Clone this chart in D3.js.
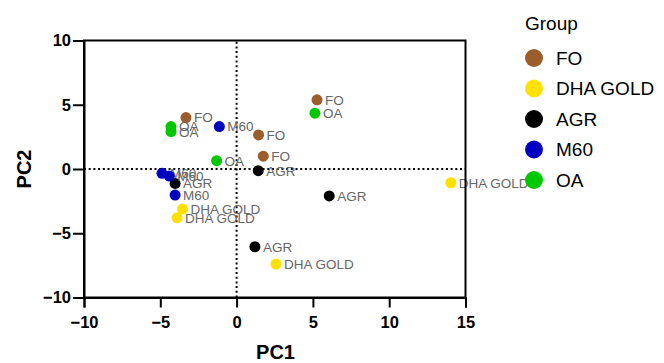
<!DOCTYPE html>
<html>
<head>
<meta charset="utf-8">
<script src="https://cdn.jsdelivr.net/npm/d3@7"></script>
<style>
  body { margin: 0; background: #fff; }
  svg { display: block; font-family: "Liberation Sans", Arial, sans-serif; }
</style>
</head>
<body>
<div id="chart"></div>
<script>
// legend groups and their colours
var groups = ["FO", "DHA GOLD", "AGR", "M60", "OA"];
var groupColors = ["#9c5d2c", "#ffe100", "#000000", "#0000c0", "#00c800"];

// one entry per sample: group, PC1 score, PC2 score
var sampleGroup = ["FO", "FO", "FO", "FO",
                   "DHA GOLD", "DHA GOLD", "DHA GOLD", "DHA GOLD",
                   "AGR", "AGR", "AGR", "AGR",
                   "M60", "M60", "M60", "M60",
                   "OA", "OA", "OA", "OA"];
var pc1 = [-3.32, 5.27, 1.44, 1.75,
           -3.54, -3.9, 2.58, 14.04,
           -4.03, 1.42, 6.07, 1.2,
           -1.13, -4.89, -4.41, -4.03,
           -4.3, -4.3, -1.31, 5.13];
var pc2 = [4.0, 5.38, 2.65, 1.0,
           -3.12, -3.8, -7.4, -1.07,
           -1.12, -0.13, -2.1, -6.05,
           3.3, -0.34, -0.55, -2.03,
           3.3, 2.9, 0.65, 4.34];

var xTicks = [-10, -5, 0, 5, 10, 15];
var yTicks = [-10, -5, 0, 5, 10];

var W = 664, H = 363;
var svg = d3.select("#chart").append("svg")
  .attr("width", W).attr("height", H);

var color = d3.scaleOrdinal().domain(groups).range(groupColors);

var x = d3.scaleLinear().domain([-10, 15]).range([84, 465.5]);
var y = d3.scaleLinear().domain([-10, 10]).range([297.5, 40.5]);

var data = pc1.map(function(v, i) {
  return { group: sampleGroup[i], pc1: v, pc2: pc2[i] };
});

// dotted zero lines
svg.append("line")
  .attr("x1", x(-10)).attr("x2", x(15))
  .attr("y1", y(0)).attr("y2", y(0))
  .attr("stroke", "#000").attr("stroke-width", 2)
  .attr("stroke-dasharray", "2,2.7");
svg.append("line")
  .attr("x1", x(0)).attr("x2", x(0))
  .attr("y1", y(-10)).attr("y2", y(10))
  .attr("stroke", "#000").attr("stroke-width", 2)
  .attr("stroke-dasharray", "2,2.7");

// points and their labels
var pts = svg.append("g");
data.forEach(function(d) {
  pts.append("circle")
    .attr("cx", x(d.pc1)).attr("cy", y(d.pc2))
    .attr("r", 5.5)
    .attr("fill", color(d.group));
  pts.append("text")
    .attr("x", x(d.pc1) + 8).attr("y", y(d.pc2))
    .attr("dy", "0.36em")
    .attr("fill", "#666")
    .style("font-size", "13.5px")
    .text(d.group);
});

// frame
svg.append("rect")
  .attr("x", x(-10)).attr("y", y(10))
  .attr("width", x(15) - x(-10)).attr("height", y(-10) - y(10))
  .attr("fill", "none").attr("stroke", "#000").attr("stroke-width", 2);

// axes
var xAxis = svg.append("g")
  .attr("transform", "translate(0," + y(-10) + ")")
  .call(d3.axisBottom(x).tickValues(xTicks).tickSize(10).tickPadding(9).tickFormat(d3.format("d")));
var yAxis = svg.append("g")
  .attr("transform", "translate(" + x(-10) + ",0)")
  .call(d3.axisLeft(y).tickValues(yTicks).tickSize(11).tickPadding(2).tickFormat(d3.format("d")));

[xAxis, yAxis].forEach(function(a) {
  a.select(".domain").attr("stroke-width", 2);
  a.selectAll(".tick line").attr("stroke-width", 2);
  a.selectAll(".tick text")
    .attr("fill", "#000")
    .style("font-size", "16.5px")
    .style("font-weight", "bold")
    .style("font-family", "'Liberation Sans', Arial, sans-serif");
});

svg.append("text")
  .attr("x", 275.5).attr("y", 359)
  .attr("text-anchor", "middle")
  .style("font-size", "20px").style("font-weight", "bold")
  .text("PC1");
svg.append("text")
  .attr("transform", "translate(31,169) rotate(-90)")
  .attr("text-anchor", "middle")
  .style("font-size", "20px").style("font-weight", "bold")
  .text("PC2");

// legend
var legend = svg.append("g");
legend.append("text")
  .attr("x", 525).attr("y", 23).attr("dy", "0.35em")
  .style("font-size", "19px")
  .text("Group");
groups.forEach(function(g, i) {
  var cy = 58 + i * 30.5;
  legend.append("circle")
    .attr("cx", 534).attr("cy", cy).attr("r", 9)
    .attr("fill", color(g));
  legend.append("text")
    .attr("x", 556).attr("y", cy).attr("dy", "0.36em")
    .style("font-size", "19px")
    .text(g);
});
</script>
</body>
</html>
